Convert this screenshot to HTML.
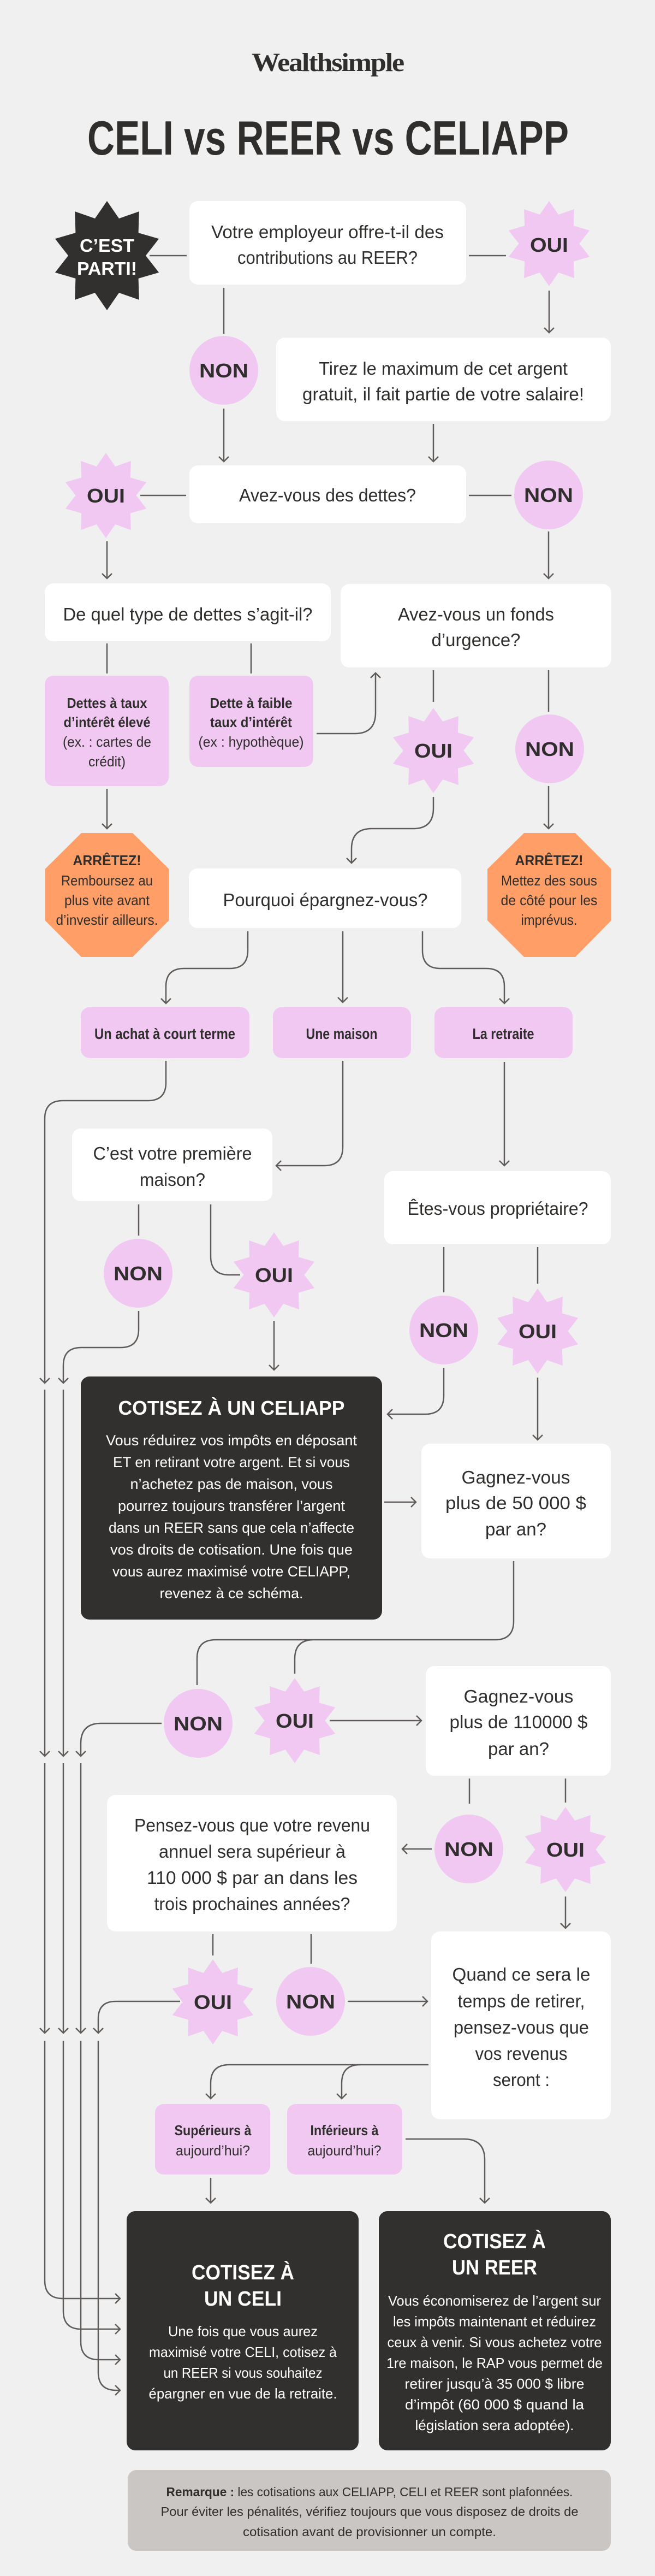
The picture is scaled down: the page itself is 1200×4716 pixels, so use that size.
<!DOCTYPE html>
<html><head><meta charset="utf-8"><style>
html,body{margin:0;padding:0;background:#f0f0f0;}
svg{display:block;}
text{font-family:"Liberation Sans",sans-serif;fill:#2f2e2c;text-anchor:middle;}
.q{font-size:33px;}
.p{font-size:26px;}
.b{font-weight:bold;}
.w{fill:#fff;}
.bd{font-size:36px;font-weight:bold;}
.ln{fill:none;stroke:#5f5b58;stroke-width:2.5;}
.ar{fill:none;stroke:#5f5b58;stroke-width:2.5;marker-end:url(#ah);}
</style></head><body>
<svg width="1200" height="4716" viewBox="0 0 1200 4716" xmlns="http://www.w3.org/2000/svg">
<defs>
<marker id="ah" markerUnits="userSpaceOnUse" markerWidth="24" markerHeight="24" refX="12" refY="12" orient="auto" viewBox="0 0 24 24">
<path d="M3,3 L12,12 L3,21" fill="none" stroke="#5f5b58" stroke-width="2.5"/>
</marker>
<polygon id="st" points="0,-1 0.22,-0.68 0.588,-0.809 0.576,-0.418 0.951,-0.309 0.71,0 0.951,0.309 0.576,0.418 0.588,0.809 0.22,0.68 0,1 -0.22,0.68 -0.588,0.809 -0.576,0.418 -0.951,0.309 -0.71,0 -0.951,-0.309 -0.576,-0.418 -0.588,-0.809 -0.22,-0.68"/>
</defs>
<rect width="1200" height="4716" fill="#f0f0f0"/>

<text x="600" y="130" style="font-family:'Liberation Serif',serif;font-weight:bold;font-size:48px;letter-spacing:-2px" textLength="278" lengthAdjust="spacingAndGlyphs">Wealthsimple</text>
<text x="601" y="283" class="b" style="font-size:88px" textLength="882" lengthAdjust="spacingAndGlyphs">CELI vs REER vs CELIAPP</text>

<!-- connectors -->
<path class="ln" d="M274 468H342M859 468H927M410 527V611M257 907H341M859 907H937M196 1178V1233M460 1178V1233M794 1227V1285M1005 1227V1303M254 2205V2262M386 2205V2300Q386 2334 420 2334H440M813 2283V2366M985 2283V2350M941 2858V2968Q941 3002 907 3002H395Q361 3002 361 3036V3085M575 3002Q540 3002 540 3037V3064M860 3256V3302M1036 3256V3300M390 3541V3580M570 3541V3595"/>
<path class="ar" d="M1006 532V609"/>
<path class="ar" d="M410 748V845"/>
<path class="ar" d="M794 776V845"/>
<path class="ar" d="M196 991V1059"/>
<path class="ar" d="M1005 973V1059"/>
<path class="ar" d="M580 1343H650Q688 1343 688 1305V1232"/>
<path class="ar" d="M794 1459V1480Q794 1517 757 1517H681Q644 1517 644 1554V1580"/>
<path class="ar" d="M196 1444V1517"/>
<path class="ar" d="M1005 1439V1517"/>
<path class="ar" d="M454 1705V1740Q454 1773 421 1773H337Q304 1773 304 1806V1837"/>
<path class="ar" d="M628 1705V1835"/>
<path class="ar" d="M774 1705V1740Q774 1773 807 1773H891Q924 1773 924 1806V1837"/>
<path class="ar" d="M304 1942V1982Q304 2015 271 2015H115Q82 2015 82 2048V2532"/>
<path class="ar" d="M82 2544V3215"/>
<path class="ar" d="M82 3228V3722"/>
<path class="ar" d="M82 3736V4175Q82 4208 115 4208H220"/>
<path class="ar" d="M628 1942V2100Q628 2134 594 2134H506"/>
<path class="ar" d="M924 1944V2134"/>
<path class="ar" d="M254 2400V2434Q254 2467 221 2467H149Q116 2467 116 2500V2532"/>
<path class="ar" d="M116 2544V3215"/>
<path class="ar" d="M116 3228V3722"/>
<path class="ar" d="M116 3736V4231Q116 4264 149 4264H220"/>
<path class="ar" d="M502 2418V2508"/>
<path class="ar" d="M813 2504V2555Q813 2589 779 2589H710"/>
<path class="ar" d="M985 2522V2636"/>
<path class="ar" d="M704 2750H762"/>
<path class="ar" d="M296 3155H185Q148 3155 148 3192V3215"/>
<path class="ar" d="M148 3228V3722"/>
<path class="ar" d="M148 3736V4287Q148 4320 181 4320H220"/>
<path class="ar" d="M604 3150H772"/>
<path class="ar" d="M791 3385H737"/>
<path class="ar" d="M1036 3472V3530"/>
<path class="ar" d="M637 3664H783"/>
<path class="ar" d="M330 3664H212Q180 3664 180 3696V3722"/>
<path class="ar" d="M180 3736V4343Q180 4376 213 4376H220"/>
<path class="ar" d="M785 3780H420Q386 3780 386 3814V3842"/>
<path class="ar" d="M660 3780Q626 3780 626 3814V3842"/>
<path class="ar" d="M743 3916H850Q888 3916 888 3954V4033"/>
<path class="ar" d="M386 3987V4033"/>

<!-- boxes -->
<g fill="#fff">
<rect x="347" y="368" width="507" height="153" rx="16"/>
<rect x="506" y="618" width="613" height="153" rx="16"/>
<rect x="347" y="852" width="507" height="106" rx="16"/>
<rect x="82" y="1068" width="524" height="106" rx="16"/>
<rect x="624" y="1069" width="496" height="153" rx="16"/>
<rect x="346" y="1590" width="499" height="109" rx="16"/>
<rect x="132" y="2066" width="367" height="133" rx="16"/>
<rect x="704" y="2144" width="415" height="134" rx="16"/>
<rect x="772" y="2643" width="347" height="210" rx="16"/>
<rect x="780" y="3050" width="339" height="201" rx="16"/>
<rect x="196" y="3286" width="531" height="250" rx="16"/>
<rect x="790" y="3536" width="329" height="344" rx="16"/>
</g>
<g fill="#f0c8f2">
<rect x="82" y="1237" width="227" height="202" rx="16"/>
<rect x="347" y="1237" width="227" height="167" rx="16"/>
<rect x="148" y="1844" width="309" height="93" rx="16"/>
<rect x="500" y="1844" width="253" height="93" rx="16"/>
<rect x="796" y="1844" width="253" height="93" rx="16"/>
<rect x="284" y="3852" width="211" height="129" rx="16"/>
<rect x="526" y="3852" width="211" height="129" rx="16"/>
</g>
<g fill="#31302e">
<rect x="148" y="2520" width="552" height="445" rx="16"/>
<rect x="232" y="4048" width="425" height="438" rx="16"/>
<rect x="694" y="4048" width="425" height="438" rx="16"/>
</g>
<rect x="234" y="4522" width="885" height="148" rx="16" fill="#cac6c3"/>
<g fill="#ff9e66">
<polygon points="149,1525 243,1525 309.5,1591 309.5,1685 243,1752 149,1752 82.5,1685 82.5,1591"/>
<polygon points="960,1525 1054,1525 1120,1591 1120,1685 1054,1752 960,1752 893,1685 893,1591"/>
</g>

<!-- stars & circles -->
<use href="#st" fill="#31302e" transform="translate(196,468) scale(100)"/>
<g fill="#f0c8f2">
<use href="#st" transform="translate(1006,446) scale(78)"/>
<use href="#st" transform="translate(194,907) scale(78)"/>
<use href="#st" transform="translate(794,1374) scale(78)"/>
<use href="#st" transform="translate(502,2334) scale(78)"/>
<use href="#st" transform="translate(985,2437) scale(78)"/>
<use href="#st" transform="translate(540,3150) scale(78)"/>
<use href="#st" transform="translate(1036,3386) scale(78)"/>
<use href="#st" transform="translate(390,3665) scale(78)"/>
<circle cx="410" cy="678" r="63"/>
<circle cx="1005" cy="906" r="63"/>
<circle cx="1007" cy="1371" r="63"/>
<circle cx="253" cy="2331" r="63"/>
<circle cx="813" cy="2435" r="63"/>
<circle cx="363" cy="3155" r="63"/>
<circle cx="859" cy="3385" r="63"/>
<circle cx="569" cy="3664" r="63"/>
</g>

<!-- badge labels -->
<text x="196" y="461" class="b w" style="font-size:33px" textLength="100" lengthAdjust="spacingAndGlyphs">C’EST</text>
<text x="196" y="503" class="b w" style="font-size:33px" textLength="110" lengthAdjust="spacingAndGlyphs">PARTI!</text>
<g class="bd">
<text x="1006" y="461" class="bd" textLength="70" lengthAdjust="spacingAndGlyphs">OUI</text>
<text x="194" y="920" class="bd" textLength="70" lengthAdjust="spacingAndGlyphs">OUI</text>
<text x="794" y="1387" class="bd" textLength="70" lengthAdjust="spacingAndGlyphs">OUI</text>
<text x="502" y="2347" class="bd" textLength="70" lengthAdjust="spacingAndGlyphs">OUI</text>
<text x="985" y="2450" class="bd" textLength="70" lengthAdjust="spacingAndGlyphs">OUI</text>
<text x="540" y="3163" class="bd" textLength="70" lengthAdjust="spacingAndGlyphs">OUI</text>
<text x="1036" y="3399" class="bd" textLength="70" lengthAdjust="spacingAndGlyphs">OUI</text>
<text x="390" y="3678" class="bd" textLength="70" lengthAdjust="spacingAndGlyphs">OUI</text>
<text x="410" y="691" class="bd" textLength="90" lengthAdjust="spacingAndGlyphs">NON</text>
<text x="1005" y="919" class="bd" textLength="90" lengthAdjust="spacingAndGlyphs">NON</text>
<text x="1007" y="1384" class="bd" textLength="90" lengthAdjust="spacingAndGlyphs">NON</text>
<text x="253" y="2344" class="bd" textLength="90" lengthAdjust="spacingAndGlyphs">NON</text>
<text x="813" y="2448" class="bd" textLength="90" lengthAdjust="spacingAndGlyphs">NON</text>
<text x="363" y="3168" class="bd" textLength="90" lengthAdjust="spacingAndGlyphs">NON</text>
<text x="859" y="3398" class="bd" textLength="90" lengthAdjust="spacingAndGlyphs">NON</text>
<text x="569" y="3677" class="bd" textLength="90" lengthAdjust="spacingAndGlyphs">NON</text>
</g>

<!-- question texts -->
<g class="q">
<text x="600" y="436" textLength="426" lengthAdjust="spacingAndGlyphs">Votre employeur offre-t-il des</text>
<text x="600" y="483" textLength="330" lengthAdjust="spacingAndGlyphs">contributions au REER?</text>
<text x="812" y="686" textLength="456" lengthAdjust="spacingAndGlyphs">Tirez le maximum de cet argent</text>
<text x="812" y="733" textLength="516" lengthAdjust="spacingAndGlyphs">gratuit, il fait partie de votre salaire!</text>
<text x="600" y="918" textLength="324" lengthAdjust="spacingAndGlyphs">Avez-vous des dettes?</text>
<text x="344" y="1136" textLength="457" lengthAdjust="spacingAndGlyphs">De quel type de dettes s’agit-il?</text>
<text x="872" y="1136" textLength="286" lengthAdjust="spacingAndGlyphs">Avez-vous un fonds</text>
<text x="872" y="1183" textLength="163" lengthAdjust="spacingAndGlyphs">d’urgence?</text>
<text x="596" y="1659" textLength="375" lengthAdjust="spacingAndGlyphs">Pourquoi épargnez-vous?</text>
<text x="316" y="2123" textLength="291" lengthAdjust="spacingAndGlyphs">C’est votre première</text>
<text x="316" y="2171" textLength="120" lengthAdjust="spacingAndGlyphs">maison?</text>
<text x="912" y="2224" textLength="331" lengthAdjust="spacingAndGlyphs">Êtes-vous propriétaire?</text>
<text x="945" y="2716" textLength="199" lengthAdjust="spacingAndGlyphs">Gagnez-vous</text>
<text x="945" y="2763" textLength="258" lengthAdjust="spacingAndGlyphs">plus de 50 000 $</text>
<text x="945" y="2811" textLength="112" lengthAdjust="spacingAndGlyphs">par an?</text>
<text x="950" y="3117" textLength="201" lengthAdjust="spacingAndGlyphs">Gagnez-vous</text>
<text x="950" y="3164" textLength="253" lengthAdjust="spacingAndGlyphs">plus de 110000 $</text>
<text x="950" y="3213" textLength="112" lengthAdjust="spacingAndGlyphs">par an?</text>
<text x="462" y="3353" textLength="432" lengthAdjust="spacingAndGlyphs">Pensez-vous que votre revenu</text>
<text x="462" y="3401" textLength="342" lengthAdjust="spacingAndGlyphs">annuel sera supérieur à</text>
<text x="462" y="3449" textLength="386" lengthAdjust="spacingAndGlyphs">110 000 $ par an dans les</text>
<text x="462" y="3497" textLength="359" lengthAdjust="spacingAndGlyphs">trois prochaines années?</text>
<text x="955" y="3626" textLength="253" lengthAdjust="spacingAndGlyphs">Quand ce sera le</text>
<text x="955" y="3675" textLength="233" lengthAdjust="spacingAndGlyphs">temps de retirer,</text>
<text x="955" y="3723" textLength="248" lengthAdjust="spacingAndGlyphs">pensez-vous que</text>
<text x="955" y="3771" textLength="169" lengthAdjust="spacingAndGlyphs">vos revenus</text>
<text x="955" y="3819" textLength="104" lengthAdjust="spacingAndGlyphs">seront :</text>
</g>

<!-- pink texts -->
<g class="p">
<text x="196" y="1296" class="b" textLength="147" lengthAdjust="spacingAndGlyphs">Dettes à taux</text>
<text x="196" y="1331" class="b" textLength="159" lengthAdjust="spacingAndGlyphs">d’intérêt élevé</text>
<text x="196" y="1367" textLength="162" lengthAdjust="spacingAndGlyphs">(ex. : cartes de</text>
<text x="196" y="1403" textLength="68" lengthAdjust="spacingAndGlyphs">crédit)</text>
<text x="460" y="1296" class="b" textLength="151" lengthAdjust="spacingAndGlyphs">Dette à faible</text>
<text x="460" y="1331" class="b" textLength="150" lengthAdjust="spacingAndGlyphs">taux d’intérêt</text>
<text x="460" y="1367" textLength="193" lengthAdjust="spacingAndGlyphs">(ex : hypothèque)</text>
<text x="196" y="1584" class="b" textLength="125" lengthAdjust="spacingAndGlyphs">ARRÊTEZ!</text>
<text x="196" y="1621" textLength="168" lengthAdjust="spacingAndGlyphs">Remboursez au</text>
<text x="196" y="1657" textLength="156" lengthAdjust="spacingAndGlyphs">plus vite avant</text>
<text x="196" y="1693" textLength="187" lengthAdjust="spacingAndGlyphs">d’investir ailleurs.</text>
<text x="1006" y="1584" class="b" textLength="125" lengthAdjust="spacingAndGlyphs">ARRÊTEZ!</text>
<text x="1006" y="1621" textLength="176" lengthAdjust="spacingAndGlyphs">Mettez des sous</text>
<text x="1006" y="1657" textLength="177" lengthAdjust="spacingAndGlyphs">de côté pour les</text>
<text x="1006" y="1693" textLength="103" lengthAdjust="spacingAndGlyphs">imprévus.</text>
<text x="302" y="1902" style="font-size:28px" class="b" textLength="258" lengthAdjust="spacingAndGlyphs">Un achat à court terme</text>
<text x="626" y="1902" style="font-size:28px" class="b" textLength="131" lengthAdjust="spacingAndGlyphs">Une maison</text>
<text x="922" y="1902" style="font-size:28px" class="b" textLength="113" lengthAdjust="spacingAndGlyphs">La retraite</text>
<text x="390" y="3909" class="b" textLength="141" lengthAdjust="spacingAndGlyphs">Supérieurs à</text>
<text x="390" y="3946" textLength="136" lengthAdjust="spacingAndGlyphs">aujourd’hui?</text>
<text x="631" y="3909" class="b" textLength="125" lengthAdjust="spacingAndGlyphs">Inférieurs à</text>
<text x="631" y="3946" textLength="135" lengthAdjust="spacingAndGlyphs">aujourd’hui?</text>
</g>

<!-- dark box texts -->
<text x="424" y="2590" class="b w" style="font-size:36px" textLength="415" lengthAdjust="spacingAndGlyphs">COTISEZ À UN CELIAPP</text>
<g class="w" style="font-size:27px">
<text class="w" x="424" y="2646" textLength="460" lengthAdjust="spacingAndGlyphs">Vous réduirez vos impôts en déposant</text>
<text class="w" x="424" y="2686" textLength="434" lengthAdjust="spacingAndGlyphs">ET en retirant votre argent. Et si vous</text>
<text class="w" x="424" y="2726" textLength="371" lengthAdjust="spacingAndGlyphs">n’achetez pas de maison, vous</text>
<text class="w" x="424" y="2766" textLength="416" lengthAdjust="spacingAndGlyphs">pourrez toujours transférer l’argent</text>
<text class="w" x="424" y="2806" textLength="450" lengthAdjust="spacingAndGlyphs">dans un REER sans que cela n’affecte</text>
<text class="w" x="424" y="2846" textLength="444" lengthAdjust="spacingAndGlyphs">vos droits de cotisation. Une fois que</text>
<text class="w" x="424" y="2886" textLength="436" lengthAdjust="spacingAndGlyphs">vous aurez maximisé votre CELIAPP,</text>
<text class="w" x="424" y="2926" textLength="263" lengthAdjust="spacingAndGlyphs">revenez à ce schéma.</text>
</g>
<text x="445" y="4173" class="b w" style="font-size:38px" textLength="188" lengthAdjust="spacingAndGlyphs">COTISEZ À</text>
<text x="445" y="4221" class="b w" style="font-size:38px" textLength="142" lengthAdjust="spacingAndGlyphs">UN CELI</text>
<g style="font-size:26px">
<text class="w" x="445" y="4277" textLength="274" lengthAdjust="spacingAndGlyphs">Une fois que vous aurez</text>
<text class="w" x="445" y="4315" textLength="344" lengthAdjust="spacingAndGlyphs">maximisé votre CELI, cotisez à</text>
<text class="w" x="445" y="4353" textLength="291" lengthAdjust="spacingAndGlyphs">un REER si vous souhaitez</text>
<text class="w" x="445" y="4391" textLength="345" lengthAdjust="spacingAndGlyphs">épargner en vue de la retraite.</text>
</g>
<text x="906" y="4116" class="b w" style="font-size:38px" textLength="188" lengthAdjust="spacingAndGlyphs">COTISEZ À</text>
<text x="906" y="4164" class="b w" style="font-size:38px" textLength="156" lengthAdjust="spacingAndGlyphs">UN REER</text>
<g style="font-size:26px">
<text class="w" x="906" y="4221" textLength="390" lengthAdjust="spacingAndGlyphs">Vous économiserez de l’argent sur</text>
<text class="w" x="906" y="4259" textLength="372" lengthAdjust="spacingAndGlyphs">les impôts maintenant et réduirez</text>
<text class="w" x="906" y="4297" textLength="393" lengthAdjust="spacingAndGlyphs">ceux à venir. Si vous achetez votre</text>
<text class="w" x="906" y="4335" textLength="396" lengthAdjust="spacingAndGlyphs">1re maison, le RAP vous permet de</text>
<text class="w" x="906" y="4373" textLength="329" lengthAdjust="spacingAndGlyphs">retirer jusqu’à 35 000 $ libre</text>
<text class="w" x="906" y="4411" textLength="328" lengthAdjust="spacingAndGlyphs">d’impôt (60 000 $ quand la</text>
<text class="w" x="906" y="4449" textLength="291" lengthAdjust="spacingAndGlyphs">législation sera adoptée).</text>
</g>

<!-- note -->
<g style="font-size:23px">
<text x="677" y="4570" textLength="745" lengthAdjust="spacingAndGlyphs"><tspan font-weight="bold">Remarque :</tspan> les cotisations aux CELIAPP, CELI et REER sont plafonnées.</text>
<text x="677" y="4606" textLength="765" lengthAdjust="spacingAndGlyphs">Pour éviter les pénalités, vérifiez toujours que vous disposez de droits de</text>
<text x="677" y="4643" textLength="464" lengthAdjust="spacingAndGlyphs">cotisation avant de provisionner un compte.</text>
</g>
</svg>
</body></html>
